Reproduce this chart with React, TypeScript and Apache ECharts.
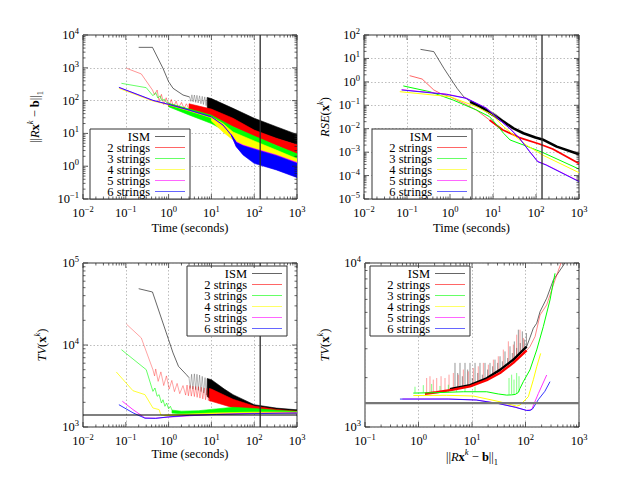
import React, { useEffect, useRef } from 'react';
import * as echarts from 'echarts';

const FONT = '"Liberation Serif", "Times New Roman", serif';
const SERIES_NAMES = ['ISM', '2 strings', '3 strings', '4 strings', '5 strings', '6 strings'];
const C_ISM = '#000000';
const C_RED = '#ff0000';
const C_GREEN = '#00ff00';
const C_YELLOW = '#ffff00';
const C_MAGENTA = '#ff00ff';
const C_BLUE = '#0000ff';

const REF_TIME = 138;
const TV_REF = 1400;

// axis extents as decade exponents, one per panel
const GRID_X_EXP = [[-2, 3], [-2, 3], [-2, 3], [-1, 3]];
const GRID_Y_EXP = [[-1, 4], [-5, 2], [3, 5], [3, 4]];

// ---------- top-left: residual vs time ----------
const TL_ISM_LINE = [[0.2, 4200], [0.42, 4200], [0.74, 960], [1.0, 378], [1.27, 237], [2.17, 148], [3.1, 129]];
const TL_ISM_SPARSE = [[3.1, 129], [3.3, 95], [3.5, 150], [3.75, 92], [4.0, 148], [4.3, 88], [4.6, 145], [4.9, 85], [5.3, 140], [5.7, 80], [6.1, 135], [6.5, 76], [7.0, 130], [7.5, 70], [8.0, 125]];
const TL_ISM_BAND = [[8, 58, 125], [10, 51, 115], [32, 26, 58], [100, 12, 29], [330, 7, 16], [1000, 4.5, 9.3]];
const TL_RED_LINE = [[0.103, 970], [0.23, 650], [0.42, 210], [0.47, 150], [0.54, 210], [0.6, 94], [0.68, 155], [0.77, 76], [0.88, 122], [1.0, 66], [1.16, 108], [1.3, 63], [1.5, 96], [1.7, 60], [2.0, 88], [2.3, 58], [2.6, 80], [3.0, 55]];
const TL_RED_BAND = [[3, 55, 80], [10, 30, 55], [32, 16, 29], [100, 7.9, 12.6], [330, 4.3, 7.1], [1000, 2.3, 4.5]];
const TL_GREEN_LINE = [[0.079, 336], [0.3, 248], [0.43, 141], [0.5, 175], [0.56, 120], [0.63, 140], [0.7, 100], [0.8, 110], [0.9, 85], [1.0, 83]];
const TL_GREEN_BAND = [[1.0, 65, 83], [3.1, 36, 55], [10, 20, 36], [32, 9, 16], [100, 5.6, 8.3], [330, 2.9, 4.3], [1000, 1.66, 2.4]];
const TL_YELLOW_LINE = [[0.069, 236], [0.43, 97], [1, 74], [3.1, 48], [10, 30]];
const TL_YELLOW_BAND = [[10, 24, 32], [18.7, 11, 20], [32, 6.3, 11], [100, 3.1, 5.9], [330, 1.9, 3.1], [1000, 1.23, 1.7]];
const TL_MAGENTA_LINE = [[0.07, 250], [0.43, 101], [1, 76], [3.1, 50], [10, 31.5], [18.7, 17.5], [29, 9]];
const TL_MAGENTA_BAND = [[29, 9, 9.5], [38, 4.0, 5.6], [55, 2.3, 4.4], [100, 1.3, 3.45], [330, 0.8, 2.2], [1000, 0.47, 1.3]];
const TL_BLUE_LINE = [[0.069, 254], [0.43, 102], [1, 77], [3.1, 51], [10, 32], [18.7, 18], [29, 9], [38, 5.3]];
const TL_BLUE_BAND = [[29, 9, 9], [38, 3.95, 5.3], [55, 2.2, 4.2], [100, 1.22, 3.3], [330, 0.77, 2.1], [1000, 0.45, 1.22]];

// ---------- top-right: RSE vs time ----------
const TR_ISM_THIN = [[0.206, 24.4], [0.42, 19.5], [0.72, 3.8], [1.0, 1.51], [1.46, 0.53], [2.08, 0.233], [2.97, 0.143]];
const TR_ISM_NOISE = [[2.97, 0.115, 0.16], [5.07, 0.075, 0.1], [8, 0.045, 0.062], [12, 0.03, 0.04], [16, 0.021, 0.026]];
const TR_ISM_THICK = [[2.97, 0.143], [5.07, 0.0875], [9.8, 0.04], [17.6, 0.02], [30, 0.0104], [51, 0.0064], [97, 0.0042], [141, 0.0035], [304, 0.00172], [1000, 0.00081]];
const TR_RED = [[0.115, 1.84], [0.225, 1.32], [0.42, 0.45], [0.6, 0.32], [1.0, 0.233], [2.08, 0.121], [4.1, 0.063], [8.3, 0.0236], [17, 0.0088], [41, 0.0042], [120, 0.00223], [245, 0.00136], [1000, 0.00033]];
const TR_GREEN = [[0.082, 0.67], [0.339, 0.38], [1.18, 0.168], [4.1, 0.063], [8.3, 0.0327], [12.3, 0.0144], [17.6, 0.0064], [25, 0.0033], [59, 0.00183], [141, 0.00098], [1000, 0.00019]];
const TR_YELLOW = [[0.068, 0.38], [1.0, 0.233], [4.1, 0.0875], [9.8, 0.0386], [17.6, 0.0123], [30, 0.0054], [59, 0.00202], [141, 0.00076], [1000, 0.000133]];
const TR_MAGENTA = [[0.075, 0.46], [0.83, 0.3], [2.4, 0.2], [7.0, 0.076], [14.2, 0.024], [24.3, 0.0106], [41, 0.004], [71, 0.00108], [110, 0.0004], [172, 0.00029], [1000, 0.000057]];
const TR_BLUE = [[0.075, 0.45], [0.83, 0.29], [2.4, 0.198], [7.0, 0.0743], [14.2, 0.0236], [24.3, 0.0104], [41, 0.0039], [71, 0.00105], [110, 0.00039], [172, 0.00028], [1000, 0.000055]];

// ---------- bottom-left: TV vs time ----------
const BL_ISM_LINE = [[0.2, 48600], [0.42, 44300], [1.0, 11600], [1.27, 8000], [1.7, 5500], [2.6, 4350], [3.0, 4000]];
const BL_ISM_SPARSE = [[3.0, 4000], [3.2, 2950], [3.45, 4400], [3.7, 2900], [4.0, 4450], [4.3, 2850], [4.6, 4400], [4.95, 2800], [5.3, 4300], [5.7, 2700], [6.1, 4150], [6.6, 2600], [7.1, 4000], [7.6, 2450], [8.1, 3900]];
const BL_ISM_BAND = [[8, 2350, 3900], [10, 2150, 3780], [20, 1950, 2900], [32, 1790, 2480], [100, 1550, 1870], [330, 1500, 1700], [1000, 1480, 1620]];
const BL_RED_LINE = [[0.103, 18000], [0.23, 12200], [0.43, 5000], [0.47, 4200], [0.5, 5100], [0.57, 3600], [0.66, 4700], [0.77, 3200], [0.89, 4200], [1.03, 2900], [1.19, 3700], [1.37, 2700], [1.58, 3400], [1.82, 2550], [2.17, 3200], [2.5, 2450],
  [2.7, 3250], [2.9, 2400], [3.15, 3200], [3.4, 2380], [3.7, 3150], [4.0, 2350], [4.3, 3120], [4.65, 2300], [5.0, 3100], [5.4, 2250], [5.8, 3050], [6.3, 2200], [6.8, 3000], [7.3, 2150], [7.9, 2960], [8.5, 2100], [9.1, 2950]];
const BL_RED_BAND = [[9, 2080, 2950], [10, 2060, 2900], [32, 1720, 2180], [100, 1560, 1800], [330, 1520, 1640], [1000, 1480, 1560]];
const BL_GREEN_LINE = [[0.079, 8770], [0.3, 5000], [0.43, 2720], [0.48, 2990], [0.54, 2370], [0.6, 2480], [0.68, 1960], [0.74, 2150], [0.82, 1790], [0.9, 1960], [1.0, 1665], [1.1, 1790], [1.2, 1605]];
const BL_GREEN_BAND = [[1.2, 1480, 1605], [2, 1450, 1560], [5, 1450, 1580], [10, 1460, 1640], [32, 1480, 1740], [100, 1500, 1680], [330, 1500, 1600], [1000, 1490, 1550]];
const BL_YELLOW_LINE = [[0.06, 4690], [0.147, 2770], [0.28, 2480], [0.43, 1705], [0.6, 1630], [0.66, 1400], [0.8, 1380]];
const BL_YELLOW_BAND = [[0.8, 1370, 1400], [3, 1400, 1440], [10, 1420, 1480], [100, 1460, 1520], [1000, 1480, 1520]];
const BL_MAGENTA = [[0.083, 2060], [0.147, 1630], [0.28, 1290], [0.5, 1280], [1, 1320], [3.1, 1370], [13, 1430], [100, 1470], [1000, 1490]];
const BL_BLUE = [[0.069, 1870], [0.147, 1490], [0.28, 1280], [0.5, 1275], [1, 1330], [3.1, 1390], [13, 1420], [100, 1455], [1000, 1480]];

// ---------- bottom-right: TV vs residual ----------
const BR_ISM_LINE = [[547, 10000], [331, 7870], [249, 6100], [187, 5050], [162, 4290], [140, 4000], [121, 3500], [105, 3090]];
const BR_ISM_BASE = [[105, 3090], [59, 2570], [33.4, 2230], [18.8, 1980], [9.2, 1800], [4.48, 1720], [3.88, 1700]];
const BR_ISM_SPIKES = [
  [4.81, 1730, 2460], [5.4, 1742, 2135], [5.97, 1754, 2460], [6.6, 1767, 2040], [7.4, 1778, 2460], [8.29, 1792, 2240],
  [9.18, 1803, 2460], [10.1, 1827, 1990], [11.4, 1855, 2460], [12.8, 1883, 2135], [14.1, 1907, 2460], [15.6, 1932, 2085],
  [17.5, 1962, 2460], [19.6, 1999, 2240], [21.7, 2040, 2460], [24.3, 2088, 2345], [26.9, 2130, 2575], [30.2, 2182, 2460],
  [33.4, 2228, 2700], [36.9, 2282, 2515], [41.4, 2346, 2890], [46.4, 2413, 2635], [51.3, 2473, 3105], [56.7, 2534, 2825],
  [61.8, 2600, 3325], [68.4, 2686, 3035], [73.5, 2750, 3920], [80.0, 2827, 3250], [87.2, 2906, 3830], [95.1, 2990, 3415],
  [104, 3077, 3740],
];
const BR_RED_LINE = [[461, 10000], [331, 7350], [249, 5550], [187, 4820], [151, 3560], [121, 3090], [105, 2930]];
const BR_RED_BASE = [[105, 2930], [59, 2460], [33.4, 2135], [18.8, 1930], [9.2, 1770], [4.48, 1690], [2.19, 1630], [1.32, 1595]];
const BR_RED_SPIKES = [
  [1.42, 1603, 1990], [1.64, 1610, 2040], [1.89, 1618, 1945], [2.19, 1630, 1990], [2.64, 1640, 2040], [3.13, 1660, 1990],
  [3.72, 1675, 2085], [4.48, 1690, 2135], [5.56, 1715, 2085], [6.89, 1740, 2240], [8.54, 1763, 2185], [10.6, 1795, 2290],
  [13.1, 1837, 2345], [16.3, 1880, 2460], [20.2, 1945, 2400], [25.1, 2010, 2575], [31.0, 2075, 2700], [38.5, 2175, 2965],
  [47.8, 2290, 3330], [59.3, 2460, 3180], [68.4, 2545, 3655], [78.9, 2660, 3920], [91.2, 2825, 3490],
];
const BR_GREEN = [[356, 8650], [287, 5950], [215, 4090], [162, 2950], [121, 2230], [91, 1890], [79, 1720], [73, 1620], [64, 1580], [55, 1570], [44.5, 1565], [31, 1590], [18.8, 1640], [6.9, 1640], [2.19, 1620], [0.8, 1610]];
const BR_GREEN_SPIKES = [
  [49.2, 1575, 1990], [55.1, 1582, 2085], [61.0, 1590, 1945], [68.4, 1610, 2135], [75.6, 1640, 2040],
  [0.86, 1620, 1760], [1.23, 1625, 1800], [1.76, 1625, 1830], [2.52, 1630, 1780], [3.61, 1632, 1810],
  [5.17, 1635, 1760], [7.4, 1638, 1790], [11.4, 1640, 1760],
];
const BR_YELLOW = [[192, 2810], [162, 2330], [140, 1940], [113, 1530], [79, 1360], [68, 1340], [33.4, 1425], [10.6, 1545], [3.36, 1560], [0.8, 1555]];
const BR_MAGENTA = [[249, 2075], [174, 1600], [130, 1277], [105, 1262], [64, 1322], [31, 1392], [12, 1462], [3.6, 1482], [0.5, 1482]];
const BR_BLUE = [[287, 1890], [230, 1650], [174, 1470], [136, 1290], [121, 1260], [105, 1262], [64, 1320], [31, 1390], [12, 1460], [3.6, 1480], [0.45, 1480]];

// ---------- layout ----------
const GRID_RECTS = [
  { left: 83, top: 35, width: 214, height: 164 },
  { left: 364, top: 35, width: 215, height: 164 },
  { left: 83, top: 263, width: 214, height: 164 },
  { left: 365, top: 263, width: 214, height: 164 },
];
const LEGEND_POS = [[90, 129], [372, 129], [187, 266], [370, 266]];

const TICK_RICH = {
  n: { fontFamily: FONT, fontSize: 12.5, color: '#000', padding: [2, 0, 2, 0] },
  s: { fontFamily: FONT, fontSize: 8.5, color: '#000', verticalAlign: 'top' },
};
const NAME_RICH = {
  n: { fontFamily: FONT, fontSize: 12.5, color: '#000', padding: [3, 0, 3, 0] },
  i: { fontFamily: FONT, fontSize: 12.5, color: '#000', fontStyle: 'italic', padding: [3, 0, 3, 0] },
  b: { fontFamily: FONT, fontSize: 12.5, color: '#000', fontWeight: 'bold', padding: [3, 0, 3, 0] },
  s: { fontFamily: FONT, fontSize: 8.5, color: '#000', fontStyle: 'italic', verticalAlign: 'top' },
  u: { fontFamily: FONT, fontSize: 8.5, color: '#000', verticalAlign: 'bottom' },
};
const RESID_NAME = '{n|||}{i|R}{b|x}{s|k}{n| − }{b|b}{n|||}{u|1}';
const RSE_NAME = '{i|RSE}{n|(}{b|x}{s|k}{n|)}';
const TV_NAME = '{i|TV}{n|(}{b|x}{s|k}{n|)}';
const TIME_NAME = '{n|Time (seconds)}';

const expLabel = (v: number) => {
  const e = Math.round(Math.log10(v));
  return `{n|10}{s|${e < 0 ? '−' + (-e) : e}}`;
};

function tickValues(lo: number, hi: number) {
  const out: number[][] = [];
  for (let e = lo; e < hi; e++) {
    out.push([Math.pow(10, e), 1]);
    for (let m = 2; m <= 9; m++) out.push([m * Math.pow(10, e), 0]);
  }
  out.push([Math.pow(10, hi), 1]);
  return out;
}

const lineS = (gi: number, name: string, color: string, data: number[][], width = 0.7, opacity = 1) => ({
  type: 'line', name, xAxisIndex: gi, yAxisIndex: gi, data, symbol: 'none', showSymbol: false,
  lineStyle: { color, width, opacity }, itemStyle: { color }, silent: true, clip: true, z: 2,
});

const bandS = (gi: number, name: string, color: string, data: number[][]) => ({
  type: 'custom', name, xAxisIndex: gi, yAxisIndex: gi, data, silent: true, clip: true, z: 2,
  itemStyle: { color },
  renderItem: (params: any, api: any) => {
    if (params.dataIndex !== 0) return { type: 'group', children: [] };
    const lo = data.map((d) => api.coord([d[0], d[1]]));
    const hi = data.map((d) => api.coord([d[0], d[2]])).reverse();
    return { type: 'polygon', shape: { points: lo.concat(hi) }, style: { fill: color, stroke: color, lineWidth: 0.6 } };
  },
});

const spikesS = (gi: number, name: string, color: string, data: number[][], width: number, opacity: number) => ({
  type: 'custom', name, xAxisIndex: gi, yAxisIndex: gi, data, silent: true, clip: true, z: 2,
  itemStyle: { color },
  renderItem: (params: any, api: any) => {
    const a = api.coord([api.value(0), api.value(1)]);
    const b = api.coord([api.value(0), api.value(2)]);
    return { type: 'line', shape: { x1: a[0], y1: a[1], x2: b[0], y2: b[1] }, style: { stroke: color, lineWidth: width, opacity } };
  },
});

const ticksS = (gi: number) => {
  const [xl, xh] = GRID_X_EXP[gi];
  const [yl, yh] = GRID_Y_EXP[gi];
  const xMin = Math.pow(10, xl);
  const yMin = Math.pow(10, yl);
  const data = [
    ...tickValues(xl, xh).map(([v, m]) => [v, yMin, 0, m]),
    ...tickValues(yl, yh).map(([v, m]) => [xMin, v, 1, m]),
  ];
  return {
    type: 'custom', name: '_ticks' + gi, xAxisIndex: gi, yAxisIndex: gi, data, silent: true, clip: false, z: 4,
    renderItem: (params: any, api: any) => {
      const cs = params.coordSys;
      const p = api.coord([api.value(0), api.value(1)]);
      const len = api.value(3) ? 5 : 2.5;
      const style = { stroke: '#222', lineWidth: 0.7 };
      if (api.value(2) === 0) {
        return {
          type: 'group', children: [
            { type: 'line', shape: { x1: p[0], y1: cs.y + cs.height, x2: p[0], y2: cs.y + cs.height - len }, style },
            { type: 'line', shape: { x1: p[0], y1: cs.y, x2: p[0], y2: cs.y + len }, style },
          ],
        };
      }
      return {
        type: 'group', children: [
          { type: 'line', shape: { x1: cs.x, y1: p[1], x2: cs.x + len, y2: p[1] }, style },
          { type: 'line', shape: { x1: cs.x + cs.width, y1: p[1], x2: cs.x + cs.width - len, y2: p[1] }, style },
        ],
      };
    },
  };
};

const vRef = (gi: number) => {
  const [yl, yh] = GRID_Y_EXP[gi];
  return lineS(gi, '_ref', '#2a2a2a', [[REF_TIME, Math.pow(10, yl)], [REF_TIME, Math.pow(10, yh)]], 1.3);
};
const hRef = (gi: number, color: string, width: number) => {
  const [xl, xh] = GRID_X_EXP[gi];
  return lineS(gi, '_href', color, [[Math.pow(10, xl), TV_REF], [Math.pow(10, xh), TV_REF]], width);
};

function buildOption() {
  const X_NAMES = [TIME_NAME, TIME_NAME, TIME_NAME, RESID_NAME];
  const X_GAPS = [19, 19, 17, 19];
  const Y_NAMES = [RESID_NAME, RSE_NAME, TV_NAME, TV_NAME];
  const Y_GAPS = [39, 30, 32, 31];

  const axisCommon = {
    type: 'log', logBase: 10,
    axisLine: { show: false }, axisTick: { show: false },
    splitLine: { show: true, lineStyle: { color: '#a0a0a0', type: [1.5, 2], width: 0.7 } },
    nameLocation: 'middle',
    nameTextStyle: { rich: NAME_RICH },
  };

  const series: any[] = [
    // TL
    lineS(0, 'ISM', C_ISM, TL_ISM_LINE, 0.6),
    lineS(0, 'ISM', C_ISM, TL_ISM_SPARSE, 0.6, 0.45),
    bandS(0, 'ISM', C_ISM, TL_ISM_BAND),
    lineS(0, '2 strings', C_RED, TL_RED_LINE, 0.6, 0.7),
    bandS(0, '2 strings', C_RED, TL_RED_BAND),
    lineS(0, '3 strings', C_GREEN, TL_GREEN_LINE, 0.6),
    bandS(0, '3 strings', C_GREEN, TL_GREEN_BAND),
    lineS(0, '4 strings', C_YELLOW, TL_YELLOW_LINE, 0.8),
    bandS(0, '4 strings', C_YELLOW, TL_YELLOW_BAND),
    lineS(0, '5 strings', C_MAGENTA, TL_MAGENTA_LINE, 0.8),
    bandS(0, '5 strings', C_MAGENTA, TL_MAGENTA_BAND),
    lineS(0, '6 strings', C_BLUE, TL_BLUE_LINE, 0.8),
    bandS(0, '6 strings', C_BLUE, TL_BLUE_BAND),
    vRef(0),
    // TR
    lineS(1, 'ISM', C_ISM, TR_ISM_THIN, 0.6),
    bandS(1, 'ISM', '#8a8a8a', TR_ISM_NOISE),
    lineS(1, 'ISM', C_ISM, TR_ISM_THICK, 2.6),
    lineS(1, '2 strings', C_RED, TR_RED.slice(0, 8), 0.6),
    lineS(1, '2 strings', C_RED, TR_RED.slice(7), 1.8),
    lineS(1, '3 strings', C_GREEN, TR_GREEN, 1.0),
    lineS(1, '4 strings', C_YELLOW, TR_YELLOW, 1.0),
    lineS(1, '5 strings', C_MAGENTA, TR_MAGENTA, 1.0),
    lineS(1, '6 strings', C_BLUE, TR_BLUE, 0.9, 0.8),
    vRef(1),
    // BL
    lineS(2, 'ISM', C_ISM, BL_ISM_LINE, 0.6),
    lineS(2, 'ISM', C_ISM, BL_ISM_SPARSE, 0.6, 0.45),
    bandS(2, 'ISM', C_ISM, BL_ISM_BAND),
    lineS(2, '2 strings', C_RED, BL_RED_LINE, 0.6, 0.6),
    bandS(2, '2 strings', C_RED, BL_RED_BAND),
    lineS(2, '3 strings', C_GREEN, BL_GREEN_LINE, 0.6),
    bandS(2, '3 strings', C_GREEN, BL_GREEN_BAND),
    lineS(2, '4 strings', C_YELLOW, BL_YELLOW_LINE, 0.8),
    bandS(2, '4 strings', C_YELLOW, BL_YELLOW_BAND),
    lineS(2, '5 strings', C_MAGENTA, BL_MAGENTA, 0.8),
    lineS(2, '6 strings', C_BLUE, BL_BLUE, 0.8),
    hRef(2, '#000', 1.2),
    vRef(2),
    // BR
    lineS(3, 'ISM', C_ISM, BR_ISM_LINE, 0.6),
    spikesS(3, 'ISM', C_ISM, BR_ISM_SPIKES, 0.7, 0.6),
    lineS(3, 'ISM', C_ISM, BR_ISM_BASE, 2.4),
    lineS(3, '2 strings', C_RED, BR_RED_LINE, 0.6, 0.8),
    spikesS(3, '2 strings', C_RED, BR_RED_SPIKES, 0.7, 0.55),
    lineS(3, '2 strings', C_RED, BR_RED_BASE, 2.4),
    lineS(3, '3 strings', C_GREEN, BR_GREEN, 1.0),
    spikesS(3, '3 strings', C_GREEN, BR_GREEN_SPIKES, 0.7, 0.7),
    lineS(3, '4 strings', C_YELLOW, BR_YELLOW, 1.0),
    lineS(3, '5 strings', C_MAGENTA, BR_MAGENTA, 0.8),
    lineS(3, '6 strings', C_BLUE, BR_BLUE, 0.8),
    hRef(3, '#777', 2.2),
    ticksS(0), ticksS(1), ticksS(2), ticksS(3),
  ];

  return {
    animation: false,
    backgroundColor: '#fff',
    grid: GRID_RECTS.map((r) => ({ ...r, show: true, borderColor: '#333', borderWidth: 1, backgroundColor: 'transparent' })),
    xAxis: GRID_X_EXP.map(([lo, hi], i) => ({
      ...axisCommon, gridIndex: i, min: Math.pow(10, lo), max: Math.pow(10, hi),
      axisLabel: { formatter: expLabel, margin: 5, rich: TICK_RICH, showMinLabel: true, showMaxLabel: true },
      name: X_NAMES[i], nameGap: X_GAPS[i],
    })),
    yAxis: GRID_Y_EXP.map(([lo, hi], i) => ({
      ...axisCommon, gridIndex: i, min: Math.pow(10, lo), max: Math.pow(10, hi),
      axisLabel: { formatter: expLabel, margin: 4, rich: TICK_RICH, showMinLabel: true, showMaxLabel: true },
      name: Y_NAMES[i], nameGap: Y_GAPS[i],
    })),
    legend: LEGEND_POS.map(([left, top]) => ({
      show: true, orient: 'vertical', align: 'right', left, top, data: SERIES_NAMES,
      backgroundColor: '#fff', borderColor: '#333', borderWidth: 1, padding: [1, 5, 1, 2],
      itemGap: -2, itemWidth: 30, itemHeight: 1, icon: 'rect', itemStyle: { opacity: 0.6 },
      selectedMode: false,
      formatter: (n: string) => `{t|${n}}`,
      textStyle: {
        fontFamily: FONT, fontSize: 12.5, color: '#000', lineHeight: 11.3,
        rich: { t: { width: 58, align: 'right', fontFamily: FONT, fontSize: 12.5, lineHeight: 11.3, color: '#000' } },
      },
    })),
    series,
  };
}

export default function App() {
  const ref = useRef<HTMLDivElement>(null);
  useEffect(() => {
    const chart = echarts.init(ref.current!, null, { renderer: 'svg' });
    chart.setOption(buildOption() as any);
    return () => chart.dispose();
  }, []);
  return <div ref={ref} style={{ position: 'fixed', left: 0, top: 0, width: 640, height: 480, background: '#fff' }} />;
}
